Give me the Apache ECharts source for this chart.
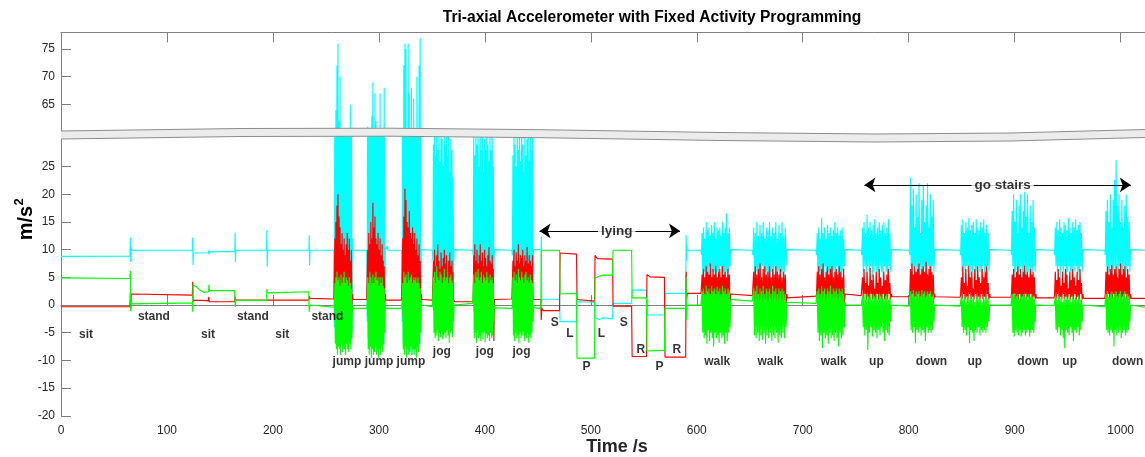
<!DOCTYPE html>
<html>
<head>
<meta charset="utf-8">
<title>Tri-axial Accelerometer with Fixed Activity Programming</title>
<script src="https://cdn.jsdelivr.net/npm/echarts@6/dist/echarts.min.js"></script>
<style>
  html, body { margin: 0; padding: 0; background: #fff; }
  #chart { width: 1145px; height: 457px; }
</style>
</head>
<body>
<div id="chart"></div>
<script>
// ---- data ----
const X_TICKS = [0, 100, 200, 300, 400, 500, 600, 700, 800, 900, 1000];
const Y_TICKS_LOW = [-20, -15, -10, -5, 0, 5, 10, 15, 20, 25];
const Y_TICKS_HIGH = [65, 70, 75];

// quiet stretches + posture changes: [time s, value]
const CYAN_BASE = [
  [0, 8.8], [65, 8.85], [65.5, 12.2], [65.8, 7.8], [66.2, 10.5], [67, 9.9], [124, 9.9], [124.3, 12.2], [124.6, 7.2],
  [125, 9.4], [139, 9.45], [139.5, 9.9], [139.8, 9.2], [140.2, 9.6], [164, 9.7], [164.3, 13.1], [164.6, 7.8], [165, 9.9],
  [194, 9.9], [194.3, 13.5], [194.6, 6.9], [195, 9.9], [234, 9.9], [234.3, 12.6], [234.6, 7.2], [235, 9.9], [257.5, 9.9],
  [275.5, 9.9], [288.5, 9.9], [306.5, 9.9], [308, 10.6], [308.5, 9.9], [321.5, 9.9], [340.5, 9.9], [350.5, 9.9],
  [371.5, 9.9], [388.5, 9.9], [409.5, 9.9], [425.5, 9.9], [446.5, 9.9], [453, 10], [453.3, 12.4], [453.6, 0.5],
  [454, 1.1], [470.5, 1.0], [471, -3.0], [486.5, -3.0], [487, 0.6], [503.5, 0.5], [504, -2.3], [508, -2.6], [512, -2.3],
  [520.5, -2.5], [521, 0.3], [538.5, 0.3], [539, 2.7], [552.5, 2.7], [553, -1.8], [569.5, -1.8], [570, 2.1], [589.5, 2.1],
  [590, 12.6], [590.3, 8], [590.6, 11], [591, 9.9], [604, 9.9], [632.5, 9.9], [652.5, 9.9], [685.5, 9.9], [712.5, 9.9],
  [740.5, 9.9], [755.2, 9.9], [784.2, 9.9], [800.5, 9.9], [825, 9.9], [848.5, 9.9], [877, 9.9], [896.5, 9.9],
  [920.5, 9.9], [937.2, 9.9], [965, 9.9], [985, 9.9], [1010, 9.9], [1023, 9.9]
];
const RED_BASE = [
  [0, -0.3], [65, -0.3], [65.5, 2.3], [65.8, -0.8], [66.2, 2.0], [67, 1.9], [124, 1.8], [124.3, 4.2], [124.6, 0.5],
  [125, 0.9], [139, 0.8], [139.5, 1.5], [139.8, 0.6], [163.8, 0.6], [164.2, 1.6], [164.5, 0.5], [165, 0.9], [234, 0.9],
  [234.4, 1.6], [235, 1.2], [257.5, 1.1], [275.5, 1.0], [288.5, 1.0], [306.5, 0.9], [321.5, 0.9], [340.5, 1.0],
  [350.5, 0.9], [371.5, 0.6], [388.5, 0.6], [409.5, 1.2], [425.5, 1.1], [446.5, 1.0], [452.8, 1.0], [453.2, -2.7],
  [453.8, -0.6], [455, -1.0], [470.5, -1.0], [471, 9.4], [472, 9.2], [486.5, 9.2], [487, 1.0], [488, 0.7], [503.5, 0.7],
  [504, 9.0], [506, 8.4], [520.5, 8.3], [521, -0.2], [538.5, -0.2], [539, -9.3], [552.5, -9.3], [553, 5.5], [556, 5.1],
  [569.5, 5.0], [570, -9.4], [589.5, -9.4], [590, 6], [590.4, 1.0], [591, 2.1], [604, 2.1], [632.5, 1.8], [652.5, 1.7],
  [685.5, 1.3], [712.5, 1.6], [740.5, 1.8], [755.2, 1.7], [784.2, 1.5], [800.5, 1.5], [825, 1.5], [848.5, 1.4],
  [877, 1.4], [896.5, 1.4], [920.5, 1.3], [937.2, 1.3], [965, 1.2], [985, 1.2], [1010, 1.2], [1023, 1.2]
];
const GREEN_BASE = [
  [0, 4.9], [65, 4.8], [65.5, 6.2], [65.8, -1.1], [66.2, 1.0], [67, 0.2], [124, 0.4], [124.3, -1.2], [124.6, 3.6],
  [125, 3.4], [128, 3.3], [131, 2.7], [135, 2.3], [139.3, 2.4], [139.6, 3.7], [140, 2.6], [163.8, 2.6], [164.2, 0.9],
  [164.5, -0.3], [165, 0.85], [194, 0.85], [194.3, 2.9], [195, 2.2], [233.8, 2.4], [234.2, -1.2], [235, 0.0],
  [257.5, -0.4], [275.5, -0.6], [288.5, -0.6], [306.5, -0.6], [321.5, -0.6], [340.5, -0.3], [350.5, -0.3],
  [371.5, 0.3], [388.5, 0.3], [409.5, -0.5], [425.5, -0.6], [446.5, -0.5], [452.8, -0.6], [453.2, 9.9], [470.5, 9.9],
  [471, 2.0], [486.5, 2.1], [487, -9.6], [503.5, -9.6], [504, 4.9], [508, 5.2], [512, 5.4], [520.5, 5.4], [521, 9.9],
  [538.5, 9.9], [539, 1.3], [552.5, 1.3], [553, -8.3], [569.5, -8.2], [570, -0.6], [589.5, -0.6], [590, 5],
  [590.4, -2.7], [591, 0.0], [604, 0.0], [632.5, 1.0], [652.5, 0.7], [685.5, 0.6], [712.5, 0.3], [740.5, 0.0],
  [755.2, 0.0], [784.2, -0.2], [800.5, -0.2], [825, -0.2], [848.5, -0.2], [877, 0.0], [896.5, 0.0], [920.5, -0.2],
  [937.2, -0.1], [965, -0.2], [985, -0.3], [1010, -0.3], [1023, -0.4]
];

// activity bursts: [start s, end s]; samples spread evenly over each span
const BURST_SPANS = [
  [258, 275], [289, 306], [322, 340],            // jump
  [351, 371], [389, 409], [426, 446],            // jog
  [604.4, 632], [653, 685], [713, 740],          // walk
  [755.7, 783.7], [801, 824.5], [849, 876.4],    // up, down, up
  [897, 920], [937.7, 964.4], [985.5, 1009.4]    // down, up, down
];

const CYAN_BURSTS = [
  [-4, 48, -6, 64, -7, 72, -5.5, 76, -6.8, 62, -7.2, 70, -6, 44, -6.5, 52, -5.8, 38, -7, 46, -6.2, 40, -6.8, 50, -5.5, 42, -6.6, 36, -7, 48, -6, 65, -6.4, 41, -5, 12],
  [-3, 61, -6, 44, -7.5, 38, -6, 52, -7, 63, -6.5, 69, -7, 45, -6, 67, -7.8, 62, -6.5, 48, -7, 40, -6.2, 55, -7.4, 67, -6, 42, -7, 50, -6.6, 46, -7.2, 68, -5, 10],
  [-3, 48, -7, 72, -8, 76, -7.5, 75, -9, 54, -8, 76, -7, 67, -8.5, 46, -7, 68, -9, 50, -7.5, 66, -8, 44, -7, 52, -8.5, 70, -7.6, 48, -8, 72, -7, 77, -5, 10],
  [8, 29, 4, 31, 3, 27, 5, 32, 4, 28, 2, 31, 5, 26, 3, 32, 4, 30, 6, 25, 3, 31, 5, 29, 4, 32, 3, 27, 5, 31, 4, 24, 3, 30, 5, 28, 4, 23, 6, 10],
  [9, 31, 3, 27, 5, 32, 4, 29, 2, 31, 5, 25, 4, 31, 3, 28, 5, 32, 4, 24, 3, 30, 6, 28, 4, 32, 3, 29, 5, 26, 2, 31, 4, 28, 5, 32, 3, 25, 5, 10],
  [9, 27, 4, 31, 3, 29, 5, 25, 4, 32, 2, 28, 5, 31, 3, 26, 4, 32, 6, 29, 3, 24, 5, 31, 4, 27, 3, 30, 5, 32, 4, 26, 3, 31, 5, 28, 4, 31, 6, 10],
  [9, 13, 5, 14, 6, 12, 4, 15, 6, 13.5, 5, 14, 7, 12.5, 5, 14.5, 6, 13, 4, 15, 6, 12, 5, 14, 6, 13.5, 5, 14, 7, 12.5, 4, 15, 6, 13, 5, 14, 6, 16.6, 5, 13, 6, 14, 7, 10],
  [9, 14, 5, 13, 6, 15, 4, 12.5, 6, 14.5, 5, 13, 7, 15, 5, 12, 6, 14, 4, 13.5, 6, 15, 5, 12.5, 6, 14, 5, 13, 7, 15, 4, 12, 6, 14.5, 5, 13, 6, 15, 5, 12.5, 6, 14, 7, 10],
  [9, 13, 5, 14, 6, 12, 4, 15.7, 6, 13, 5, 14, 7, 12, 5, 14.5, 6, 13, 4, 14, 6, 12.5, 5, 13.5, 6, 15, 5, 13, 7, 14, 4, 12.5, 6, 13.5, 5, 14, 6, 12, 7, 10],
  [9, 14, 6, 15, 7, 13, 5, 16.3, 7, 14, 6, 15, 7, 13.5, 5, 14.5, 6, 15.5, 7, 13, 5, 14, 6, 15, 7, 13.5, 6, 14.5, 5, 15, 7, 13, 6, 14, 5, 15.5, 7, 13, 6, 10],
  [9, 23, 7, 18, 5, 21, 6, 14, 7, 20, 5, 16, 6, 22, 7, 13, 5, 19, 6, 21.5, 7, 15, 5, 18, 6, 22, 7, 14, 5, 20, 6, 16, 7, 19, 6, 10],
  [9, 14.5, 6, 15.5, 7, 13, 5, 15, 7, 14, 6, 15.7, 7, 13.5, 5, 14.5, 6, 15, 7, 13, 5, 15.5, 6, 14, 7, 13.5, 6, 15, 5, 14, 7, 15.5, 6, 13, 5, 14.5, 7, 13, 6, 10],
  [9, 17, 7, 20, 5, 15, 6, 19, 7, 13, 5, 18, 6, 20, 7, 14, 5, 17, 6, 21, 7, 16, 5, 20, 6, 13, 7, 18, 5, 15, 6, 19, 7, 14, 6, 10],
  [9, 14, 7, 15, 6, 13.5, 7, 15.5, 5, 14, 7, 13, 6, 15, 7, 14.5, 5, 13.5, 6, 15.7, 7, 14, 6, 13, 5, 15, 7, 14, 6, 15.5, 7, 13.5, 5, 14.5, 6, 15, 7, 13, 6, 10],
  [9, 17, 7, 19, 5, 15, 6, 20, 7, 14, 5, 19, 6, 22.6, 7, 26.2, 5, 18, 6, 20, 7, 15, 5, 19, 6, 14, 7, 18, 5, 20, 6, 16, 7, 15, 6, 10]
];
const RED_BURSTS = [
  [1, 12, -2, 15, -1, 18, -3, 20, -2, 16, 0, 14, -2, 11, -1, 13, -3, 10, -1, 12, -2, 9, 0, 11, -2, 13, -1, 10, -3, 12, -1, 8, -2, 10, 0, 2],
  [1, 10, -2, 13, -1, 11, -3, 15, -2, 12, -1, 18.5, -3, 14, -2, 16, -1, 12, -2, 11, 0, 13, -2, 10, -1, 12, -3, 9, -2, 11, -1, 8, -2, 7, 0, 2],
  [1, 12, -2, 16, -1, 21, -3, 19, -2, 15, -1, 14, -3, 17, -2, 13, -1, 12, -2, 14, 0, 11, -2, 13, -1, 10, -3, 12, -2, 9, -1, 11, -2, 8, 0, 2],
  [1, 8, -1, 10, 0, 7, -2, 9, 1, 11, -1, 8, 0, 6.5, -2, 9.5, 1, 7, -1, 8.5, 0, 10, -2, 7.5, 1, 9, -1, 6, 0, 8, -2, 9.5, 1, 7, -1, 8, 0, 6, 1, 1],
  [1, 9, -1, 11, 0, 8, -2, 10, 1, 7.5, -1, 9, 0, 11, -2, 8, 1, 9.5, -1, 7, 0, 10, -2, 8.5, 1, 7, -1, 9, 0, 10.5, -2, 8, 1, 7.5, -1, 9, 0, 6.5, -6.5, 1],
  [1, 8, -1, 10, 0, 7, -2, 9.5, 1, 8, -1, 11, 0, 7.5, -2, 9, 1, 8.5, -1, 10, 0, 7, -2, 9, 1, 8, -1, 10.5, 0, 7.5, -2, 9, 1, 8, -1, 7, 0, 9, 1, 1],
  [2, 5.5, 0, 6.5, 1, 5, -1, 7, 0, 6, 1, 5.5, -1, 7.5, 0, 5, 1, 6.5, -1, 5.5, 0, 7, 1, 5, -1, 6, 0, 6.5, 1, 5, -1, 7, 0, 5.5, 1, 6, -1, 5, 0, 6.5, 1, 5.5, 0, 2],
  [2, 6, 0, 7, 1, 5.5, -1, 6.5, 0, 7.5, 1, 5, -1, 6.5, 0, 7, 1, 5.5, -1, 6, 0, 7, 1, 5, -1, 6.5, 0, 5.5, 1, 7, -1, 6, 0, 5.5, 1, 6.5, -1, 5, 0, 6, 1, 5.5, 0, 2],
  [2, 6, 0, 7, 1, 5.5, -1, 6.5, 0, 7.5, 1, 5, -1, 6, 0, 7, 1, 5.5, -1, 6.5, 0, 7, 1, 5, -1, 6, 0, 6.5, 1, 5.5, -1, 7, 0, 6, 1, 5, -1, 6.5, 0, 2],
  [2, 5, 1, 6.5, 2, 4, 1, 6, 1.5, 3.5, 1, 6.7, 2, 4.5, 1, 5.5, 1.5, 3, 1, 6, 2, 4, 1, 6.5, 1.5, 5, 1, 3.5, 2, 6, 1, 4.5, 1.5, 5.5, 1, 6.5, 2, 4, 1, 2],
  [2, 6.5, 1, 7.5, 2, 5.5, 1, 7, 1.5, 6, 1, 6.5, 2, 7.5, 1, 5.5, 1.5, 6.5, 1, 7, 2, 6, 1, 7.8, 1.5, 5.5, 1, 6.5, 2, 7, 1, 6, 1.5, 5.5, 1, 2],
  [2, 5, 1, 7, 2, 4, 1, 6.5, 1.5, 3.5, 1, 7.1, 2, 5, 1, 6, 1.5, 3, 1, 6.5, 2, 4.5, 1, 7, 1.5, 5, 1, 4, 2, 6.5, 1, 5, 1.5, 6, 1, 7, 2, 4, 1, 2],
  [2, 5.5, 1, 6.5, 2, 5, 1, 6, 1.5, 7, 1, 5.5, 2, 6.5, 1, 5, 1.5, 6, 1, 7.1, 2, 5.5, 1, 6, 1.5, 5, 1, 6.5, 2, 5.5, 1, 6, 1.5, 5, 1, 2],
  [2, 6, 1, 4.5, 2, 6.5, 1, 5, 1.5, 3.5, 1, 6, 2, 4, 1, 6.5, 1.5, 5.5, 1, 3, 2, 6, 1, 4.5, 1.5, 6.5, 1, 5, 2, 3.5, 1, 6, 1.5, 4.5, 1, 6.5, 2, 4, 1, 2],
  [2, 6, 1, 7, 2, 5.5, 1, 6.5, 1.5, 7.2, 1, 5.5, 2, 6.5, 1, 7, 1.5, 5, 1, 6.5, 2, 7.5, 1, 5.5, 1.5, 6.5, 1, 7, 2, 5, 1, 6.5, 1.5, 5.5, 1, 2]
];
const GREEN_BURSTS = [
  [0, 4, -7, 5, -8, 6, -9, 4.5, -7.5, 5, -8, 3.5, -9, 5.5, -7, 4, -8.5, 5, -7.5, 6, -8, 4, -9, 5, -7, 4.5, -8, 3.5, -8.5, 5, -7, 4, -8, 3, -6, 0],
  [0, 5, -8, 4, -9, 6, -7.5, 5, -9.5, 4, -8, 5.5, -9, 4, -8.5, 5, -7, 6, -9, 4.5, -8, 5, -9.5, 3.5, -8, 5, -9, 4, -7.5, 5, -8.5, 3.5, -7, 3, -5, 0],
  [0, 4, -8, 6, -9, 5, -7.5, 5.5, -9.5, 4, -8, 6, -9, 4.5, -8.5, 5, -7.5, 5.5, -9, 4, -8, 5, -9, 4.5, -8, 5, -9.5, 4, -7.5, 5, -8.5, 4, -7, 3, -5, 0],
  [0, 5, -5, 6, -6, 4, -5.5, 7, -4.5, 5, -6.5, 4.5, -5, 6, -5.8, 5.5, -4.8, 4, -6.2, 5, -5.5, 6.5, -5, 4.5, -6, 5, -4.5, 6, -5.5, 4, -6.8, 5, -5, 5.5, -4.6, 4.5, -5.8, 4, -3, 0],
  [0, 5.5, -6, 4, -5, 6, -6.8, 5, -4.5, 6.5, -6, 4.5, -5.5, 5, -6.5, 6, -5, 4, -6.2, 5.5, -4.8, 5, -6.7, 4.5, -5.2, 6, -6, 5, -5.5, 4, -6.5, 5.5, -5, 4.5, -6, 5, -5.5, 4, -3, 0],
  [0, 5, -5.5, 6, -6.5, 4.5, -5, 5.5, -6, 4, -5.5, 6.5, -6.8, 5, -5, 4.5, -6, 6, -5.5, 5, -4.8, 4, -6.5, 5.5, -5.5, 6, -6, 4.5, -5, 5, -6.8, 4, -5.5, 5.5, -6, 4.5, -5, 4, -3, 0],
  [0, 2.5, -5, 3, -6, 2, -5.5, 3.5, -7, 2.5, -4.5, 3, -6.5, 2, -5, 3.5, -6, 2.5, -7.5, 3, -5, 2, -6, 3.3, -5.5, 2.5, -6.8, 3, -5, 2, -6, 3.5, -5.5, 2.5, -7, 3, -5, 2, -6.5, 3, -5, 2.5, -4, 0.5],
  [0.5, 3, -5.5, 2.5, -6, 3.5, -5, 2, -6.5, 3, -5.5, 2.5, -6.3, 3.5, -5, 2, -7, 3, -5.5, 2.5, -6, 3, -5, 2, -6.5, 3.5, -5.5, 2.5, -6, 3, -5, 2, -6.8, 3, -5.5, 2.5, -6, 3, -5, 2.5, -6, 2, -4, 0.5],
  [0.5, 2.5, -5, 3, -6.5, 2, -5.5, 3.5, -7.8, 2.5, -5, 3, -6, 2, -5.5, 3, -7, 2.5, -5, 3.5, -6, 2, -5.5, 3, -6.5, 2.5, -5, 3, -6, 2, -7.5, 3, -5, 2.5, -6, 3, -5.5, 2, -4, 0.5],
  [0, 1.5, -4, 2, -5.5, 1, -4.5, 2.1, -8.1, 1.5, -5, 2, -4, 1, -5.7, 2, -4.5, 1.5, -5, 2, -6, 1, -4.5, 2, -5.5, 1.5, -4, 2, -5, 1, -6.5, 1.5, -4.5, 2, -5, 1, -5.5, 1.5, -3, 0],
  [0, 2.5, -4.5, 2, -5, 2.7, -4, 1.5, -6.9, 2.5, -4.5, 2, -5, 2.5, -4, 1.5, -5.5, 2.7, -4.5, 2, -5, 2.5, -6.5, 1.5, -4, 2.5, -5, 2, -4.5, 2.5, -5, 1.5, -4.5, 2, -3, 0],
  [0, 1.5, -4, 1, -5, 1.5, -4.5, 0.5, -5.5, 1.5, -4, 1, -6.9, 1.5, -4.5, 1, -5, 1.5, -6.5, 0.5, -4.5, 1.5, -5, 1, -4, 1.5, -5.5, 1, -4.5, 0.5, -5, 1.5, -4.5, 1, -5, 1.5, -4, 1, -3, 0],
  [0, 2, -5, 1.5, -5.7, 2.1, -4.5, 1.5, -5, 2, -5.5, 1, -4.5, 2, -5.7, 1.5, -5, 2, -4.5, 1.5, -5.5, 2.1, -5, 1, -4.5, 2, -5.7, 1.5, -5, 2, -4.5, 1.5, -5, 1, -3, 0],
  [0, 1.5, -4.5, 1, -5, 1.5, -4, 1, -5.5, 1.5, -4.5, 0.5, -6, 1.5, -7.8, 1, -4.5, 1.5, -5, 1, -5.5, 1.5, -4, 0.5, -5, 1.5, -6.5, 1, -4.5, 1.5, -5, 1, -4, 1.5, -5.5, 1, -4.5, 1, -3, 0],
  [0, 2, -4.5, 2.5, -5, 1.5, -5.5, 2, -4.5, 2.5, -5, 1.5, -7.5, 2, -4.5, 2.5, -5.5, 1.5, -5, 2, -4.5, 2.5, -6, 1.5, -5, 2, -4.5, 2.5, -5.5, 1.5, -5, 2, -4.5, 1.5, -3, 0]
];

// activity annotations: [text, time s, value]
const ACTIVITY_LABELS = [
  ["sit", 23.6, -5.3], ["stand", 87.7, -2.1], ["sit", 138.7, -5.3], ["stand", 181.1, -2.1], ["sit", 208.8, -5.3],
  ["stand", 251.4, -2.1], ["jump", 269.8, -10.3], ["jump", 300.2, -10.3], ["jump", 330.2, -10.3],
  ["jog", 359.4, -8.4], ["jog", 400, -8.4], ["jog", 434.6, -8.4],
  ["S", 466, -3.2], ["L", 480.2, -5.2], ["P", 496, -11.2], ["L", 510, -5.2], ["S", 531, -3.2],
  ["R", 547.2, -8.0], ["P", 564.8, -11.2], ["R", 581.1, -8.0],
  ["walk", 619.3, -10.3], ["walk", 669.6, -10.3], ["walk", 729.2, -10.3], ["up", 769.5, -10.3],
  ["down", 821.5, -10.3], ["up", 862.3, -10.3], ["down", 917.3, -10.3], ["up", 951.9, -10.3], ["down", 1006.6, -10.3]
];
// span arrows: [text, from s, to s, value, text centre s]
const SPAN_ARROWS = [
  ["lying", 451.6, 584.2, 13.4, 524.5],
  ["go stairs", 758.2, 1009.6, 21.7, 888.7]
];

// ---- layout ----
const PLOT_LEFT = 61;
const AXIS_COLOR = "#808080";
const TEXT_COLOR = "#262626";
const FONT = "'Liberation Sans', Helvetica, Arial, sans-serif";
// centre line of the axis-break band, pixels
const BREAK_MID = [[61, 135], [240, 132.5], [390, 132.2], [540, 133.7], [720, 136.5], [875, 138], [1010, 137], [1145, 133.5]];

function buildSeries(base, bursts) {
  const pts = base.map((p) => p.slice());
  BURST_SPANS.forEach(([t0, t1], i) => {
    const vals = bursts[i];
    const step = (t1 - t0) / (vals.length - 1);
    vals.forEach((v, k) => pts.push([t0 + k * step, v]));
  });
  return pts.sort((a, b) => a[0] - b[0]);
}

const cyan = buildSeries(CYAN_BASE, CYAN_BURSTS);
const red = buildSeries(RED_BASE, RED_BURSTS);
const green = buildSeries(GREEN_BASE, GREEN_BURSTS);

const bandTop = BREAK_MID.map(([x, y]) => [x, y - 4]);
const bandBottom = BREAK_MID.map(([x, y]) => [x, y + 4]);

function lineSeries(data, color, gridIdx) {
  return {
    type: "line",
    xAxisIndex: gridIdx,
    yAxisIndex: gridIdx,
    data,
    showSymbol: false,
    symbol: "none",
    clip: true,
    silent: true,
    lineStyle: { color, width: 1.15 },
    z: 2,
  };
}

const xCommon = {
  type: "value",
  min: 0,
  max: 1023,
  splitLine: { show: false },
  axisLine: { show: true, lineStyle: { color: AXIS_COLOR } },
  axisTick: { inside: true, length: 10, customValues: X_TICKS, lineStyle: { color: AXIS_COLOR } },
};

const option = {
  animation: false,
  backgroundColor: "#fff",
  textStyle: { fontFamily: FONT },
  grid: [
    { left: PLOT_LEFT, right: 0, top: 32.4, height: 105.2 },
    { left: PLOT_LEFT, right: 0, top: 133.46, height: 282.29 },
  ],
  xAxis: [
    Object.assign({}, xCommon, { gridIndex: 0, position: "top", axisLabel: { show: false } }),
    Object.assign({}, xCommon, {
      gridIndex: 1,
      position: "bottom",
      axisLabel: {
        customValues: X_TICKS,
        formatter: (v) => String(v),
        color: TEXT_COLOR, fontSize: 12, margin: 9, fontFamily: FONT,
      },
    }),
  ],
  yAxis: [
    {
      type: "value", gridIndex: 0, min: 59, max: 78,
      splitLine: { show: false },
      axisLine: { show: true, lineStyle: { color: AXIS_COLOR } },
      axisTick: { inside: true, length: 10, customValues: Y_TICKS_HIGH, lineStyle: { color: AXIS_COLOR } },
      axisLabel: { customValues: Y_TICKS_HIGH, color: TEXT_COLOR, fontSize: 12, margin: 6, fontFamily: FONT },
    },
    {
      type: "value", gridIndex: 1, min: -20, max: 31,
      splitLine: { show: false },
      axisLine: { show: true, lineStyle: { color: AXIS_COLOR } },
      axisTick: { inside: true, length: 10, customValues: Y_TICKS_LOW, lineStyle: { color: AXIS_COLOR } },
      axisLabel: { customValues: Y_TICKS_LOW, color: TEXT_COLOR, fontSize: 12, margin: 6, fontFamily: FONT },
    },
  ],
  series: [
    lineSeries(cyan, "#00ffff", 1),
    lineSeries(cyan, "#00ffff", 0),
    lineSeries(red, "#ff0000", 1),
    lineSeries(green, "#00ff00", 1),
    {
      type: "lines",
      coordinateSystem: "cartesian2d",
      xAxisIndex: 1,
      yAxisIndex: 1,
      symbol: ["arrow", "arrow"],
      symbolSize: 11,
      silent: true,
      lineStyle: { color: "#000", width: 1, opacity: 1 },
      data: SPAN_ARROWS.map(([, t0, t1, v]) => ({ coords: [[t0, v], [t1, v]] })),
      z: 4,
    },
    {
      type: "scatter",
      xAxisIndex: 1,
      yAxisIndex: 1,
      symbolSize: 1,
      silent: true,
      itemStyle: { color: "rgba(0,0,0,0)" },
      label: {
        show: true,
        position: "inside",
        formatter: (p) => p.value[2],
        color: "#000",
        fontWeight: "bold",
        fontSize: 12,
        fontFamily: FONT,
      },
      data: ACTIVITY_LABELS.map(([txt, t, v]) => [t, v, txt]),
      z: 5,
    },
    {
      type: "scatter",
      xAxisIndex: 1,
      yAxisIndex: 1,
      symbolSize: 1,
      silent: true,
      itemStyle: { color: "rgba(0,0,0,0)" },
      label: {
        show: true,
        position: "inside",
        formatter: (p) => p.value[2],
        color: "#000",
        fontWeight: "bold",
        fontSize: 13.5,
        fontFamily: FONT,
        backgroundColor: "#fff",
        padding: [0, 3],
      },
      data: SPAN_ARROWS.map(([txt, , , v, tc]) => [tc, v, txt]),
      z: 6,
    },
  ],
  graphic: [
    // axis break band
    { type: "polygon", z: 100, silent: true, shape: { points: bandTop.concat(bandBottom.slice().reverse()) }, style: { fill: "#ececec" } },
    { type: "polyline", z: 101, silent: true, shape: { points: bandTop }, style: { stroke: "#8c8c8c", lineWidth: 1, fill: null } },
    { type: "polyline", z: 101, silent: true, shape: { points: bandBottom }, style: { stroke: "#8c8c8c", lineWidth: 1, fill: null } },
    {
      type: "text", z: 102, silent: true, x: 652, y: 18,
      style: { text: "Tri-axial Accelerometer with Fixed Activity Programming", font: "bold 15.6px " + FONT, fill: "#000", align: "center", verticalAlign: "middle" },
    },
    {
      type: "text", z: 102, silent: true, x: 617, y: 447,
      style: { text: "Time /s", font: "bold 18px " + FONT, fill: TEXT_COLOR, align: "center", verticalAlign: "middle" },
    },
    {
      type: "text", z: 102, silent: true, x: 26, y: 223, rotation: Math.PI / 2,
      style: { text: "m/s", font: "bold 20px " + FONT, fill: "#000", align: "center", verticalAlign: "middle" },
    },
    {
      type: "text", z: 102, silent: true, x: 19, y: 202, rotation: Math.PI / 2,
      style: { text: "2", font: "bold 13px " + FONT, fill: "#000", align: "center", verticalAlign: "middle" },
    },
  ],
};

const chart = echarts.init(document.getElementById("chart"), null, { renderer: "canvas" });
chart.setOption(option);
</script>
</body>
</html>
